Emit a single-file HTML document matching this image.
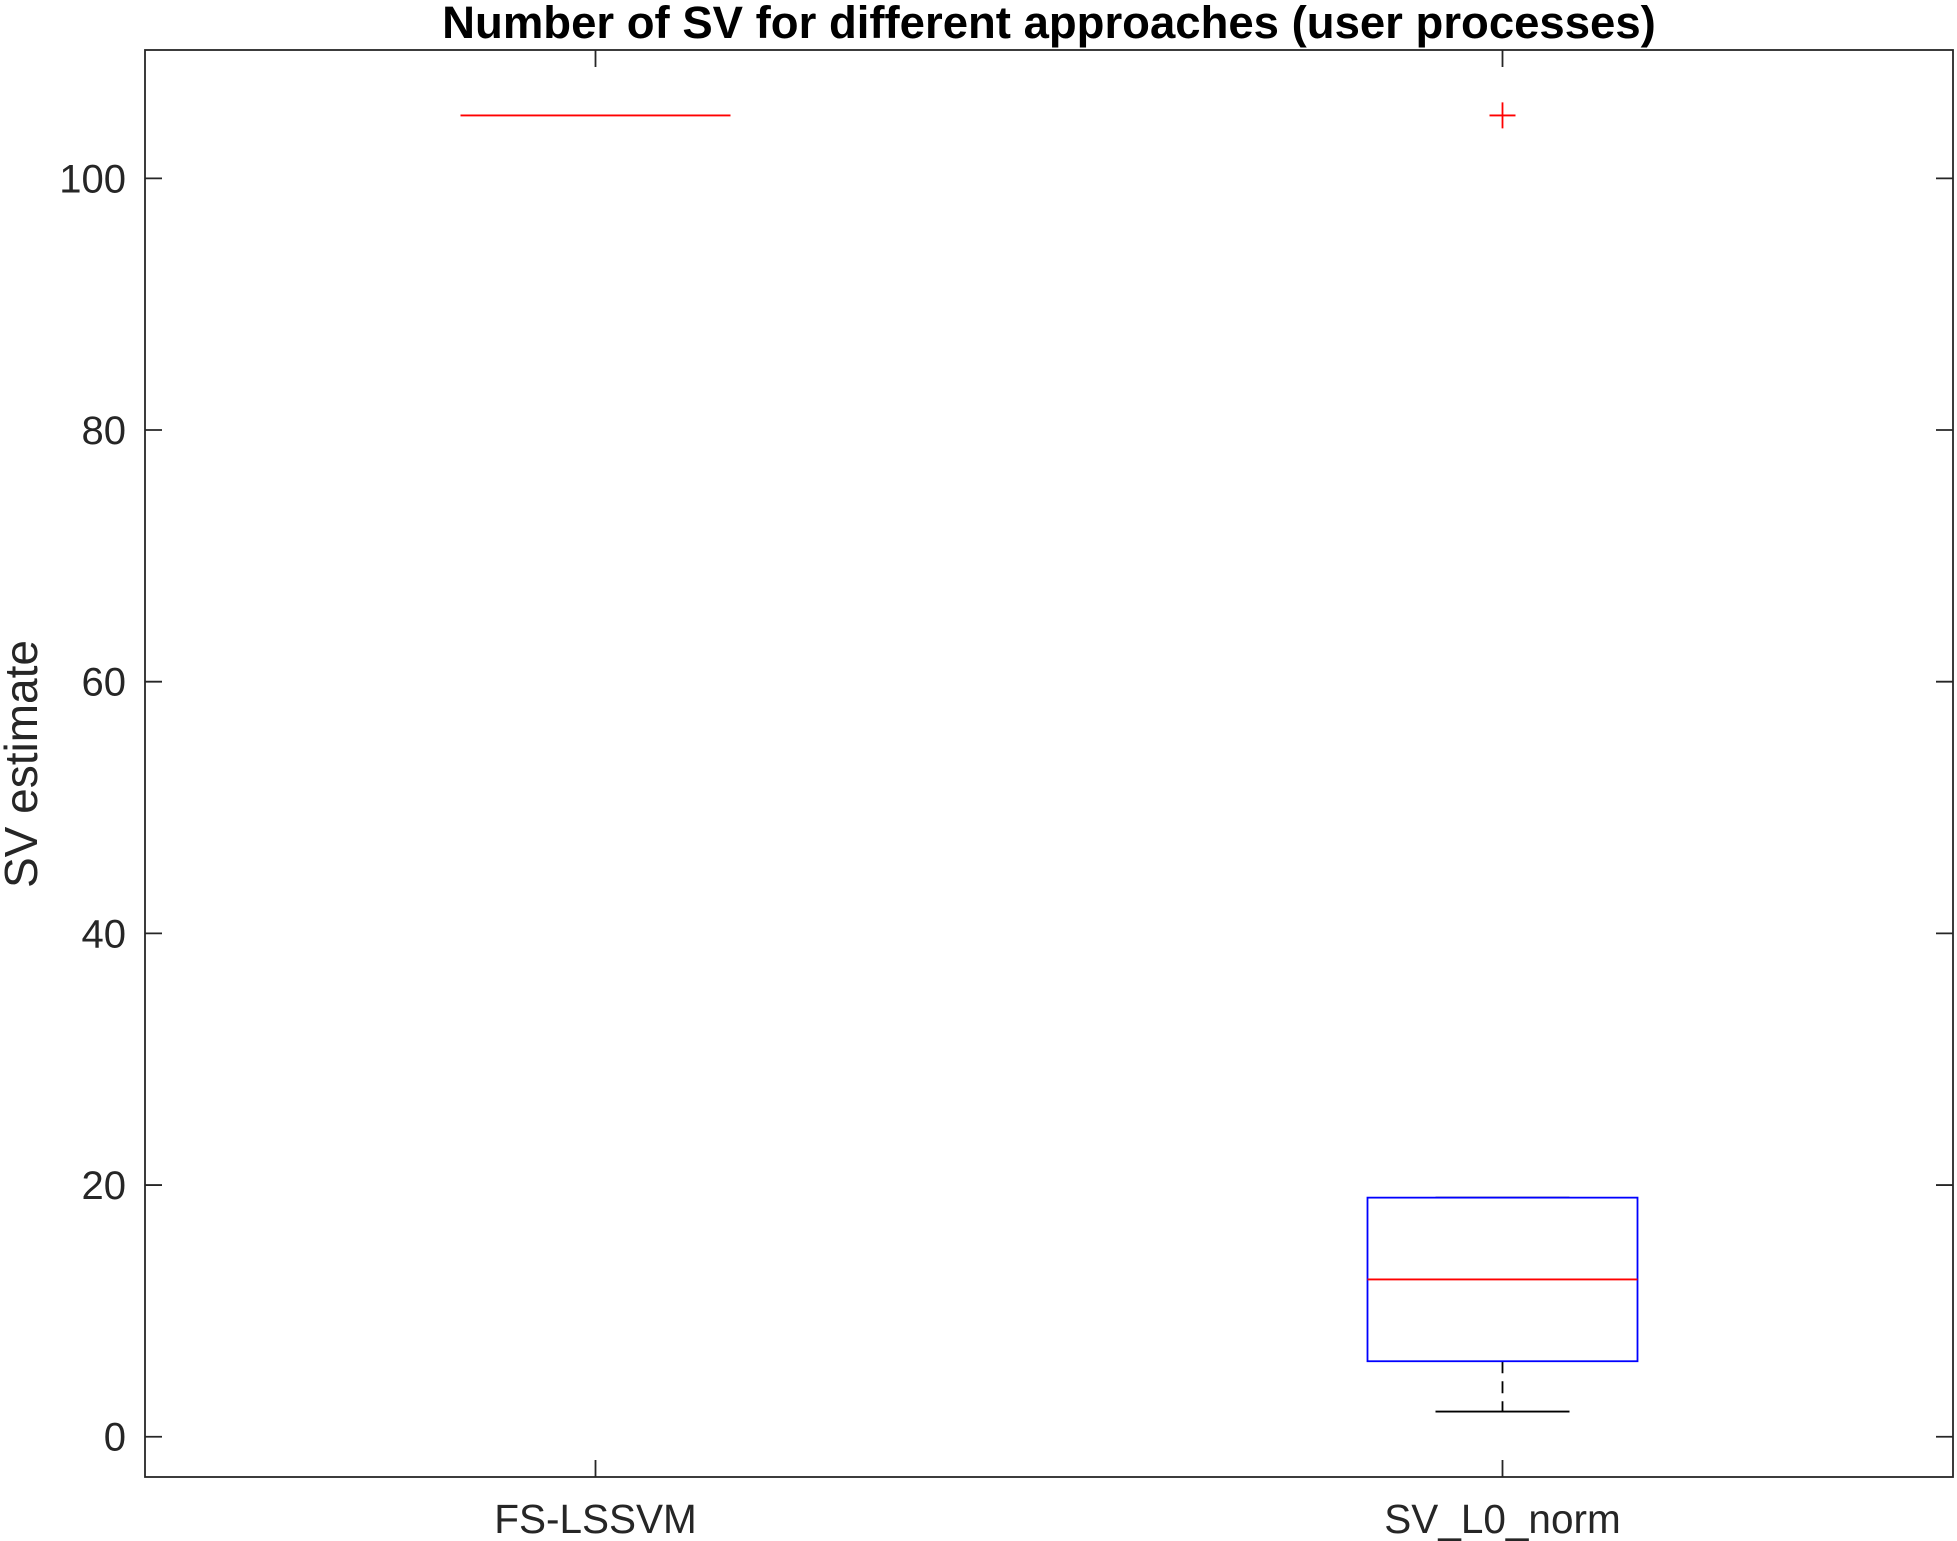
<!DOCTYPE html>
<html><head><meta charset="utf-8"><style>
html,body{margin:0;padding:0;background:#fff;}
svg{display:block;font-family:"Liberation Sans",Helvetica,Arial,sans-serif;}
</style></head><body>
<svg id="chart" width="1957" height="1541" viewBox="0 0 1957 1541" xmlns="http://www.w3.org/2000/svg"></svg>
<script>
const categories = ["FS-LSSVM", "SV_L0_norm"];
const q1Values = [105, 6];
const medianValues = [105, 12.5];
const q3Values = [105, 19];
const lowerWhisker = [105, 2];
const upperWhisker = [105, 19];
const outlierValues = [[], [105]];
const yTicks = [0, 20, 40, 60, 80, 100];
const yMin = -3.2, yMax = 110.2;

const L = 145, R = 1953, T = 50, B = 1477;
const NS = "http://www.w3.org/2000/svg";
const svg = document.getElementById("chart");
function yS(v){ return B - (v - yMin) / (yMax - yMin) * (B - T); }
function xS(i){ return L + (i + 0.5) / categories.length * (R - L) + (i===0 ? -1.5 : 1.5); }
function el(tag, attrs, parent){
  const e = document.createElementNS(NS, tag);
  for (const k in attrs) e.setAttribute(k, attrs[k]);
  (parent || svg).appendChild(e);
  return e;
}
const boxHalf = 135, capHalf = 67, tickLen = 17, lw = 1.8;

const frame = el("rect", {x:L, y:T, width:R-L, height:B-T, fill:"none", stroke:"#262626", "stroke-width":lw});



yTicks.forEach(v => {
  const y = yS(v);
  el("line", {x1:L, x2:L+tickLen, y1:y, y2:y, stroke:"#262626", "stroke-width":lw});
  el("line", {x1:R, x2:R-tickLen, y1:y, y2:y, stroke:"#262626", "stroke-width":lw});
  const t = el("text", {x:L-19, y:y+14, "text-anchor":"end", "font-size":40, fill:"#262626"});
  t.textContent = v;
  
  
});
categories.forEach((c, i) => {
  const x = xS(i);
  el("line", {x1:x, x2:x, y1:B, y2:B-tickLen, stroke:"#262626", "stroke-width":lw});
  el("line", {x1:x, x2:x, y1:T, y2:T+tickLen, stroke:"#262626", "stroke-width":lw});
  const t = el("text", {x:x, y:1533, "text-anchor":"middle", "font-size":40.5, fill:"#262626"});
  t.textContent = c;
  
  
});

categories.forEach((c, i) => {
  const x = xS(i);
  const g = el("g", {});
  
  
  const yq1 = yS(q1Values[i]), yq3 = yS(q3Values[i]), ym = yS(medianValues[i]);
  if (lowerWhisker[i] < q1Values[i]) {
    el("line", {x1:x, x2:x, y1:yq1, y2:yS(lowerWhisker[i]), stroke:"#000", "stroke-width":lw, "stroke-dasharray":"12,8"}, g);
  }
  if (upperWhisker[i] > q3Values[i]) {
    el("line", {x1:x, x2:x, y1:yq3, y2:yS(upperWhisker[i]), stroke:"#000", "stroke-width":lw, "stroke-dasharray":"12,8"}, g);
  }
  if (q1Values[i] !== q3Values[i]) {
    el("line", {x1:x-capHalf, x2:x+capHalf, y1:yS(lowerWhisker[i]), y2:yS(lowerWhisker[i]), stroke:"#000", "stroke-width":lw}, g);
    el("line", {x1:x-capHalf, x2:x+capHalf, y1:yS(upperWhisker[i]), y2:yS(upperWhisker[i]), stroke:"#000", "stroke-width":lw}, g);
    el("rect", {x:x-boxHalf, y:yq3, width:2*boxHalf, height:yq1-yq3, fill:"none", stroke:"#0000ff", "stroke-width":lw}, g);
  }
  el("line", {x1:x-boxHalf, x2:x+boxHalf, y1:ym, y2:ym, stroke:"#ff0000", "stroke-width":lw}, g);
  outlierValues[i].forEach(v => {
    const yo = yS(v);
    const p = el("path", {d:`M${x-13},${yo}H${x+13}M${x},${yo-13}V${yo+13}`, stroke:"#ff0000", "stroke-width":lw, fill:"none"}, g);
    
    
  });
});

const title = el("text", {x:1049, y:38, "text-anchor":"middle", "font-size":45.5, "font-weight":"bold", fill:"#000"});
title.textContent = "Number of SV for different approaches (user processes)";



const yl = el("text", {x:0, y:0, "text-anchor":"middle", "font-size":46, fill:"#262626", transform:"translate(37,764) rotate(-90)"});
yl.textContent = "SV estimate";


</script>
</body></html>
